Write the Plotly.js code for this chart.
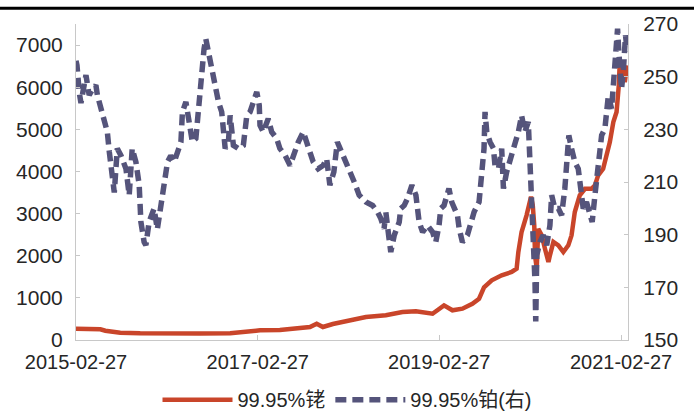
<!DOCTYPE html>
<html>
<head>
<meta charset="utf-8">
<script src="https://cdn.plot.ly/plotly-3.0.1.min.js"></script>
<style>
html,body{margin:0;padding:0;background:#fff;}
#chart{width:694px;height:412px;}
</style>
</head>
<body>
<div id="chart"></div>
<script>
// 99.95% rhodium (left axis, 元/克)
const rhDates = ['2015-02-27','2015-04-25','2015-06-05','2015-06-25','2015-07-15','2015-08-24','2015-11-12','2016-02-01','2016-04-21','2016-07-10','2016-11-08','2017-01-27','2017-03-08','2017-05-27','2017-08-16','2017-09-25','2017-10-22','2017-11-16','2017-12-26','2018-02-04','2018-03-05','2018-05-08','2018-07-27','2018-10-02','2018-11-25','2019-01-31','2019-03-18','2019-04-21','2019-05-31','2019-07-10','2019-08-06','2019-08-26','2019-09-26','2019-11-05','2019-12-15','2020-01-04','2020-01-11','2020-01-24','2020-02-13','2020-03-02','2020-03-09','2020-03-15','2020-03-18','2020-03-25','2020-03-31','2020-04-14','2020-04-27','2020-05-11','2020-05-17','2020-05-31','2020-06-20','2020-07-10','2020-07-30','2020-08-12','2020-08-25','2020-09-14','2020-10-05','2020-10-31','2020-11-14','2020-11-27','2020-12-17','2020-12-31','2021-01-13','2021-01-27','2021-02-09','2021-02-18','2021-02-22','2021-03-08','2021-03-14','2021-03-24'];
const rhValues = [268,265,255,220,200,175,160,150,150,155,160,200,230,240,280,308,387,308,380,427,467,546,586,664,681,624,823,705,743,861,980,1250,1417,1535,1614,1692,2088,2563,2959,3400,3196,2722,2010,1692,2641,2484,2167,1851,2010,2326,2247,2088,2247,2484,3037,3434,3590,3590,3671,3908,4065,4383,4699,5173,5410,6044,6597,6438,6122,6519];

// 99.95% platinum (right axis, 元/克)
const ptDates = ['2015-02-27','2015-03-03','2015-03-12','2015-03-19','2015-04-08','2015-04-21','2015-05-03','2015-05-18','2015-05-24','2015-06-07','2015-06-21','2015-07-03','2015-07-11','2015-07-18','2015-07-23','2015-07-31','2015-08-12','2015-08-27','2015-09-16','2015-09-29','2015-10-11','2015-10-26','2015-11-08','2015-11-15','2015-11-28','2015-12-05','2015-12-18','2016-01-07','2016-01-20','2016-02-03','2016-02-17','2016-03-01','2016-03-14','2016-03-28','2016-04-24','2016-04-30','2016-05-14','2016-05-27','2016-06-09','2016-06-23','2016-07-06','2016-07-13','2016-07-26','2016-08-02','2016-08-15','2016-08-29','2016-09-08','2016-09-22','2016-10-05','2016-10-12','2016-10-19','2016-11-01','2016-11-08','2016-11-21','2016-12-11','2016-12-31','2017-01-07','2017-01-14','2017-01-27','2017-02-09','2017-02-23','2017-03-05','2017-03-08','2017-03-21','2017-04-10','2017-04-24','2017-05-14','2017-05-27','2017-06-17','2017-07-07','2017-07-20','2017-08-09','2017-08-29','2017-09-12','2017-09-25','2017-10-08','2017-10-28','2017-11-17','2017-12-01','2017-12-14','2017-12-30','2018-01-13','2018-01-30','2018-02-19','2018-03-05','2018-03-22','2018-04-11','2018-05-08','2018-06-04','2018-06-24','2018-07-07','2018-07-20','2018-07-27','2018-08-09','2018-08-16','2018-08-30','2018-09-19','2018-09-25','2018-10-09','2018-10-22','2018-11-09','2018-11-25','2018-12-01','2018-12-08','2018-12-22','2019-01-11','2019-01-31','2019-02-13','2019-02-26','2019-03-05','2019-03-18','2019-04-07','2019-04-18','2019-04-27','2019-05-11','2019-05-18','2019-05-31','2019-06-20','2019-07-04','2019-07-17','2019-08-06','2019-08-13','2019-08-20','2019-08-26','2019-08-30','2019-09-06','2019-09-19','2019-10-03','2019-10-09','2019-10-23','2019-11-05','2019-11-12','2019-11-25','2019-12-15','2019-12-28','2020-01-11','2020-01-24','2020-02-06','2020-02-20','2020-02-24','2020-02-27','2020-03-04','2020-03-11','2020-03-15','2020-03-18','2020-03-21','2020-03-25','2020-04-07','2020-04-20','2020-05-04','2020-05-17','2020-05-24','2020-06-06','2020-06-20','2020-07-03','2020-07-16','2020-07-23','2020-08-01','2020-08-12','2020-08-25','2020-09-08','2020-09-18','2020-09-28','2020-10-11','2020-10-25','2020-11-03','2020-11-14','2020-11-27','2020-12-11','2020-12-24','2021-01-07','2021-01-20','2021-01-27','2021-02-02','2021-02-13','2021-02-18','2021-03-01','2021-03-08','2021-03-17','2021-03-24'];
const ptValues = [256,254.3,244,240,250.6,243,245,246.8,243,237.9,232.8,229,221.4,215,210,206,222.7,220,215,205,222.7,217.6,209,194.8,187.2,186,194.8,199.9,192,199.9,210,217.6,220,217.6,225.2,236.6,240.4,234,225.2,226.5,241.6,249.2,260.6,264.4,258,251,246.8,240.4,236.6,230.2,222.7,225.2,235.3,223.9,222.7,223.9,230.2,235.3,236.6,240.4,244.2,239.1,231.5,229,234,229,226.5,222.7,220.1,216.3,220.1,225.2,229,225.2,221.4,217.6,215,216.3,218.9,208.8,213.8,225.2,221.4,216.3,213.8,210,205,202.4,201.1,198.6,196.1,192.3,198.6,188.5,183.4,189.8,194.8,199.9,201.1,203.7,208.8,205,199.9,194.8,191,193.5,191,187.2,193.5,199.9,201.1,207.5,202.4,199.9,197.4,192.3,187.2,189.8,194.8,198.6,202.4,211.3,216.3,222.7,236.6,229,225.2,222.7,216.3,215,222.7,207.5,213.8,220.1,225.2,229,235.3,229,232.8,225.2,215,205,194.8,182.2,172,157,182.2,187.2,189.8,186,193.5,205,199.9,199.9,197.4,207.5,215,227.7,222.7,217.6,215,207.5,199.9,202.4,198.6,194.8,205,217.6,227.7,230.2,242.9,237.8,245.4,251.8,268.2,259.4,245.4,251.8,265.7,259.4];

const seriesNames = ['99.95%铑', '99.95%铂(右)'];
const xTickVals = ['2015-02-27','2017-02-27','2019-02-27','2021-02-27'];
const xRange = ['2015-02-27','2021-03-27'];
const leftTicks = [0,1000,2000,3000,4000,5000,6000,7000];
const rightTicks = [150,170,190,210,230,250,270];

const FONT = '"Liberation Sans Narrow", "Liberation Sans", Arial, "Noto Sans CJK SC", sans-serif';
const AXIS_GREY = '#c8c8c8';
const TXT = '#262626';

const traces = [
  {
    x: rhDates, y: rhValues, name: seriesNames[0], type: 'scatter', mode: 'lines',
    line: {color: '#c9452a', width: 4.5}, yaxis: 'y'
  },
  {
    x: ptDates, y: ptValues, name: seriesNames[1], type: 'scatter', mode: 'lines',
    line: {color: '#55547b', width: 5.5, dash: '11px,6px'}, yaxis: 'y2'
  }
];

const layout = {
  width: 694, height: 412,
  margin: {l: 76, r: 66, t: 24, b: 72, autoexpand: false},
  paper_bgcolor: '#ffffff', plot_bgcolor: '#ffffff',
  font: {family: FONT, size: 21, color: TXT},
  showlegend: true,
  legend: {
    orientation: 'h', x: 0.5, xanchor: 'center', xref: 'container',
    y: 0.03, yanchor: 'middle', yref: 'container',
    font: {family: FONT, size: 20, color: TXT},
    itemwidth: 70, tracegroupgap: 0
  },
  xaxis: {
    type: 'date', range: xRange, automargin: false,
    tickmode: 'array', tickvals: xTickVals, ticktext: xTickVals,
    showgrid: false, zeroline: false,
    showline: true, linecolor: AXIS_GREY, linewidth: 1,
    ticks: 'inside', ticklen: 5, tickcolor: AXIS_GREY,
    ticklabelstandoff: 4,
    tickfont: {family: FONT, size: 20, color: TXT}
  },
  yaxis: {
    range: [0, 7500], tickmode: 'array', tickvals: leftTicks, automargin: false,
    showgrid: false, zeroline: false,
    showline: true, linecolor: AXIS_GREY, linewidth: 1,
    ticks: 'inside', ticklen: 4, tickcolor: AXIS_GREY,
    ticklabelstandoff: 8,
    tickfont: {family: FONT, size: 21, color: TXT}
  },
  yaxis2: {
    range: [150, 270], tickmode: 'array', tickvals: rightTicks, automargin: false,
    overlaying: 'y', side: 'right',
    showgrid: false, zeroline: false,
    showline: true, linecolor: AXIS_GREY, linewidth: 1,
    ticks: 'inside', ticklen: 4, tickcolor: AXIS_GREY,
    ticklabelstandoff: 10,
    tickfont: {family: FONT, size: 21, color: TXT}
  },
  shapes: [
    {type: 'line', xref: 'paper', yref: 'paper', x0: -0.2, x1: 1.2, y0: 1.05, y1: 1.05,
     line: {color: '#000000', width: 3}}
  ]
};

Plotly.newPlot('chart', traces, layout, {displayModeBar: false, staticPlot: true});
</script>
</body>
</html>
